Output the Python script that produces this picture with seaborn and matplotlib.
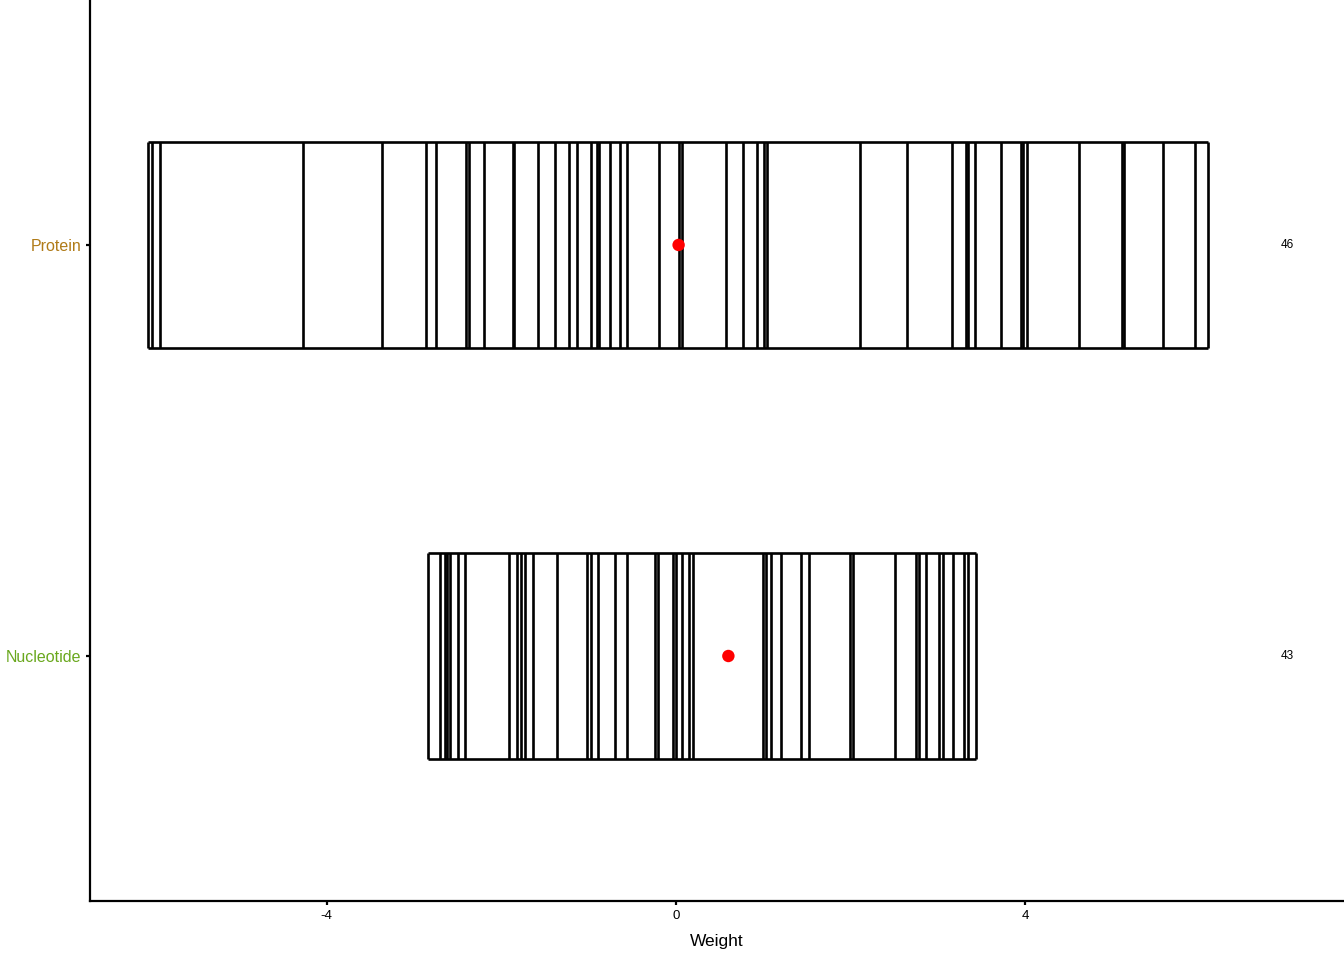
import matplotlib
matplotlib.use("Agg")
import matplotlib.pyplot as plt
import pandas as pd
import numpy as np
import seaborn as sns

# weights
protein_weights = [-6.05, -6.00, -5.91, -4.27, -3.37, -2.86, -2.75, -2.40, -2.37, -2.20,
                   -1.87, -1.85, -1.58, -1.39, -1.23, -1.13, -0.97, -0.90, -0.88, -0.75,
                   -0.64, -0.56, -0.19, 0.03, 0.07, 0.57, 0.77, 0.93, 1.01, 1.04,
                   2.11, 2.65, 3.16, 3.32, 3.34, 3.43, 3.72, 3.95, 3.97, 4.02,
                   4.62, 5.11, 5.13, 5.58, 5.94, 6.09]
nucleotide_weights = [-2.84, -2.70, -2.64, -2.62, -2.59, -2.50, -2.42, -1.91, -1.82, -1.77,
                      -1.73, -1.64, -1.36, -1.02, -0.97, -0.89, -0.70, -0.56, -0.24, -0.21,
                      -0.03, 0.00, 0.07, 0.15, 0.19, 1.00, 1.03, 1.09, 1.20, 1.43,
                      1.52, 1.99, 2.03, 2.51, 2.75, 2.78, 2.86, 3.01, 3.06, 3.17,
                      3.30, 3.34, 3.44]

groups = ["Nucleotide", "Protein"]
centres = [0.60, 0.03]  # red dots
label_colors = ["#6aa81e", "#b07b18"]
x_ticks = [-4, 0, 4]


def main():
    sns.set_theme(style="white")
    plt.rcParams["font.family"] = ["Liberation Sans", "DejaVu Sans"]

    weights = pd.DataFrame({
        "group": ["Protein"] * len(protein_weights) + ["Nucleotide"] * len(nucleotide_weights),
        "weight": protein_weights + nucleotide_weights,
    })
    weights["pos"] = weights["group"].map({g: i for i, g in enumerate(groups)})
    centre_df = pd.DataFrame({"group": groups, "weight": centres, "pos": range(len(groups))})

    fig = plt.figure(figsize=(13.44, 9.6), dpi=100)
    ax = fig.add_axes([0.067, 0.0615, 0.933, 0.9385])

    half = 0.25
    for pos, grp in weights.groupby("pos"):
        w = grp["weight"]
        # one vertical bar per weight
        ax.vlines(w, pos - half, pos + half, color="black", lw=1.9)
        ax.hlines([pos - half, pos + half], w.min(), w.max(), color="black", lw=1.9)
        ax.text(7.0, pos, str(len(w)), fontsize=8.5, ha="center", va="center", color="black")

    sns.scatterplot(data=centre_df, x="weight", y="pos", color="red", s=80,
                    edgecolor="none", ax=ax, zorder=5, legend=False)

    ax.set_xlim(-6.71, 7.65)
    ax.set_ylim(-0.596, 1.596)
    ax.set_xticks(x_ticks)
    ax.set_xticklabels([str(t) for t in x_ticks], fontsize=9.5, color="black")
    ax.set_yticks(range(len(groups)))
    ax.set_yticklabels(groups, fontsize=11.5)
    for lab, c in zip(ax.get_yticklabels(), label_colors):
        lab.set_color(c)
    ax.set_xlabel("Weight", fontsize=12.5, color="black", labelpad=9)
    ax.set_ylabel("")

    sns.despine(ax=ax)
    for s in ["left", "bottom"]:
        ax.spines[s].set_color("black")
        ax.spines[s].set_linewidth(1.6)
    ax.tick_params(axis="both", length=3, width=1.6, color="black", bottom=True, left=True)
    ax.tick_params(axis="x", pad=3.5)
    ax.tick_params(axis="y", pad=3.5)

    plt.savefig("out.png", dpi=100)


if __name__ == "__main__":
    main()
